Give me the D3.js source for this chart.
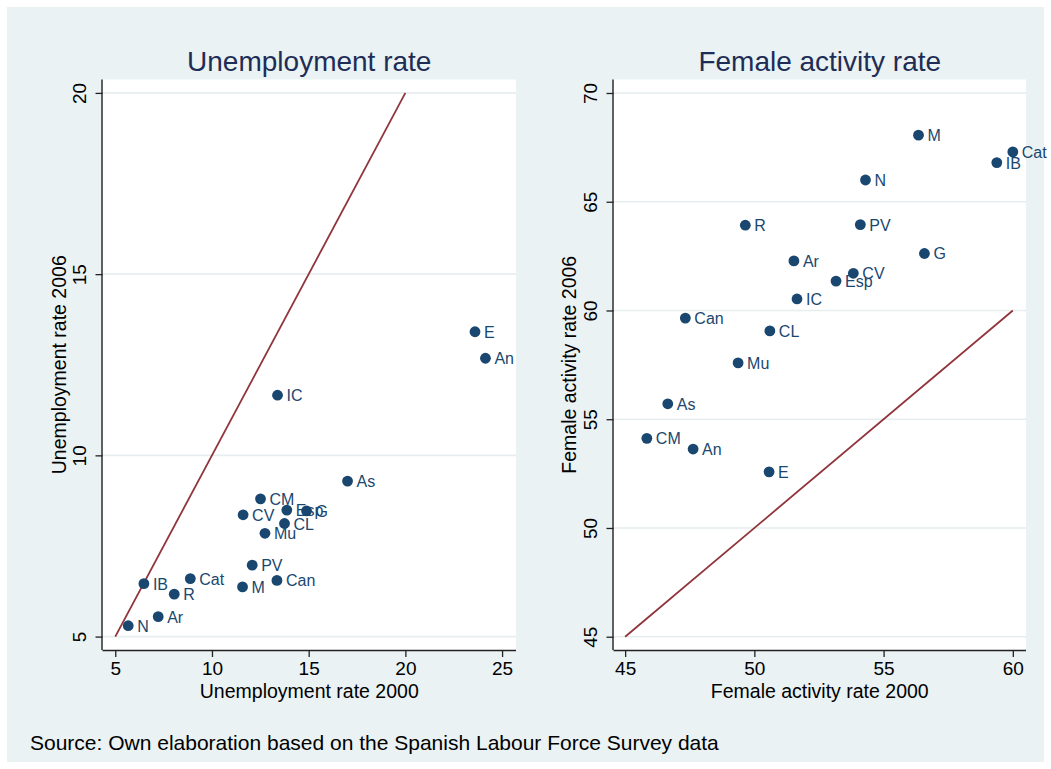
<!DOCTYPE html>
<html>
<head>
<meta charset="utf-8">
<script src="https://cdn.jsdelivr.net/npm/d3@7"></script>
<style>
  html, body { margin: 0; padding: 0; background: #ffffff; }
  svg { display: block; font-family: "Liberation Sans", Arial, sans-serif; }
</style>
</head>
<body>
<svg id="chart" width="1051" height="769"></svg>
<script>
// Regions (Spanish autonomous communities) and their rates
const regions = ["N", "Ar", "R", "IB", "Cat", "M", "Can", "PV", "Mu", "CL", "CV", "CM", "Esp", "G", "As", "IC", "E", "An"];

const unemp2000 = [5.67, 7.22, 8.05, 6.48, 8.88, 11.58, 13.36, 12.08, 12.74, 13.75, 11.61, 12.51, 13.87, 14.89, 17.01, 13.39, 23.60, 24.14];
const unemp2006 = [5.30, 5.55, 6.17, 6.46, 6.60, 6.37, 6.55, 6.97, 7.85, 8.12, 8.36, 8.80, 8.49, 8.47, 9.29, 11.66, 13.41, 12.68];

const female2000 = [54.30, 51.53, 49.65, 59.38, 60.00, 56.35, 47.33, 54.10, 49.37, 50.60, 53.83, 45.84, 53.16, 56.58, 46.65, 51.65, 50.57, 47.63];
const female2006 = [66.00, 62.28, 63.92, 66.80, 67.29, 68.06, 59.65, 63.95, 57.59, 59.06, 61.71, 54.12, 61.35, 62.62, 55.71, 60.53, 52.58, 53.63];

const unempTicks = [5, 10, 15, 20, 25];
const unempYTicks = [5, 10, 15, 20];
const femaleXTicks = [45, 50, 55, 60];
const femaleYTicks = [45, 50, 55, 60, 65, 70];

// 45-degree reference segments
const unempDiagonal = [5, 20];
const femaleDiagonal = [45, 60];

const svg = d3.select("#chart");

const COLORS = {
  frame: "#eaf2f3",
  plot: "#ffffff",
  grid: "#e6eef0",
  marker: "#1a476f",
  line: "#90353b",
  title: "#1e2d56",
  text: "#000000"
};

// Outer graph region
svg.append("rect")
  .attr("x", 7).attr("y", 7)
  .attr("width", 1037).attr("height", 755)
  .attr("fill", COLORS.frame);

function panel(cfg) {
  const { left, right, top, bottom } = cfg.box;
  const x = d3.scaleLinear().domain(cfg.xDomain).range([left, right]);
  const y = d3.scaleLinear().domain(cfg.yDomain).range([bottom, top]);
  const g = svg.append("g");

  g.append("rect")
    .attr("x", left).attr("y", top)
    .attr("width", right - left).attr("height", bottom - top)
    .attr("fill", COLORS.plot);

  // horizontal gridlines
  g.append("g").selectAll("line")
    .data(cfg.yTicks)
    .join("line")
    .attr("x1", left).attr("x2", right)
    .attr("y1", d => y(d)).attr("y2", d => y(d))
    .attr("stroke", COLORS.grid)
    .attr("stroke-width", 1.6);

  // diagonal y = x
  g.append("line")
    .attr("x1", x(cfg.diagonal[0])).attr("y1", y(cfg.diagonal[0]))
    .attr("x2", x(cfg.diagonal[1])).attr("y2", y(cfg.diagonal[1]))
    .attr("stroke", COLORS.line)
    .attr("stroke-width", 1.8);

  // x axis
  const xAxis = g.append("g")
    .attr("transform", `translate(0,${bottom})`)
    .call(d3.axisBottom(x).tickValues(cfg.xTicks).tickSize(7).tickPadding(5).tickSizeOuter(0));
  xAxis.select(".domain").attr("d", `M${left},0.5H${right}`).attr("stroke", "#222").attr("stroke-width", 1.4);
  xAxis.selectAll(".tick line").attr("stroke", "#222").attr("stroke-width", 1.3);
  xAxis.selectAll(".tick text")
    .attr("font-size", 19)
    .attr("font-family", "Liberation Sans, Arial, sans-serif")
    .attr("fill", COLORS.text);

  // y axis with vertical tick labels
  const yAxis = g.append("g")
    .attr("transform", `translate(${left},0)`)
    .call(d3.axisLeft(y).tickValues(cfg.yTicks).tickSize(7).tickSizeOuter(0));
  yAxis.select(".domain").attr("d", `M-0.5,${top}V${bottom}`).attr("stroke", "#222").attr("stroke-width", 1.4);
  yAxis.selectAll(".tick line").attr("stroke", "#222").attr("stroke-width", 1.3);
  yAxis.selectAll(".tick text")
    .attr("x", 0).attr("dy", null)
    .attr("transform", "translate(-23,0) rotate(-90)")
    .attr("text-anchor", "middle")
    .attr("dominant-baseline", "central")
    .attr("font-size", 19)
    .attr("font-family", "Liberation Sans, Arial, sans-serif")
    .attr("fill", COLORS.text);

  // points and labels
  const pts = regions.map((r, i) => ({ name: r, xv: cfg.xs[i], yv: cfg.ys[i] }));
  g.append("g").selectAll("circle")
    .data(pts)
    .join("circle")
    .attr("cx", d => x(d.xv))
    .attr("cy", d => y(d.yv))
    .attr("r", 5.4)
    .attr("fill", COLORS.marker);

  g.append("g").selectAll("text")
    .data(pts)
    .join("text")
    .attr("x", d => x(d.xv) + 9)
    .attr("y", d => y(d.yv) + 6)
    .attr("font-size", 16)
    .attr("fill", COLORS.marker)
    .text(d => d.name);

  // titles
  const cx = (left + right) / 2;
  svg.append("text")
    .attr("x", cx).attr("y", 71)
    .attr("text-anchor", "middle")
    .attr("font-size", 28)
    .attr("fill", COLORS.title)
    .text(cfg.title);

  svg.append("text")
    .attr("x", cx).attr("y", 698)
    .attr("text-anchor", "middle")
    .attr("font-size", 19.5)
    .attr("fill", COLORS.text)
    .text(cfg.xTitle);

  const cy = (top + bottom) / 2;
  svg.append("text")
    .attr("transform", `translate(${cfg.yTitleX},${cy}) rotate(-90)`)
    .attr("text-anchor", "middle")
    .attr("dominant-baseline", "central")
    .attr("font-size", 19.5)
    .attr("fill", COLORS.text)
    .text(cfg.yTitle);
}

panel({
  box: { left: 102.5, right: 516, top: 79.5, bottom: 650 },
  xDomain: [4.34, 25.72],
  yDomain: [4.63, 20.37],
  xTicks: unempTicks,
  yTicks: unempYTicks,
  diagonal: unempDiagonal,
  xs: unemp2000,
  ys: unemp2006,
  title: "Unemployment rate",
  xTitle: "Unemployment rate 2000",
  yTitle: "Unemployment rate 2006",
  yTitleX: 59
});

panel({
  box: { left: 613.5, right: 1026, top: 79.5, bottom: 650 },
  xDomain: [44.55, 60.51],
  yDomain: [44.39, 70.62],
  xTicks: femaleXTicks,
  yTicks: femaleYTicks,
  diagonal: femaleDiagonal,
  xs: female2000,
  ys: female2006,
  title: "Female activity rate",
  xTitle: "Female activity rate 2000",
  yTitle: "Female activity rate 2006",
  yTitleX: 569
});

svg.append("text")
  .attr("x", 30).attr("y", 750)
  .attr("font-size", 21)
  .attr("fill", COLORS.text)
  .text("Source: Own elaboration based on the Spanish Labour Force Survey data");
</script>
</body>
</html>
